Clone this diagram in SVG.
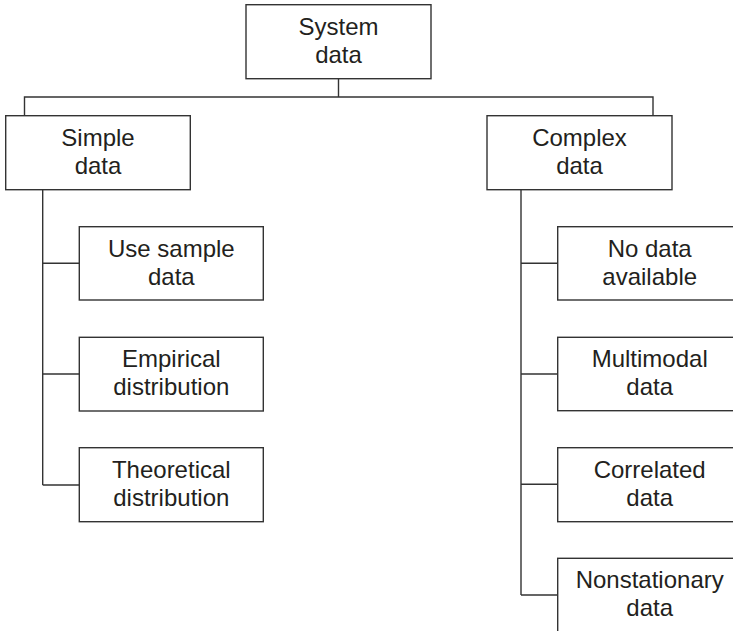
<svg xmlns="http://www.w3.org/2000/svg" width="733" height="631" viewBox="0 0 733 631">
<style>
.box{fill:#fff;stroke:#333;stroke-width:1.4}
.ln{fill:none;stroke:#333;stroke-width:1.4}
text{font-family:"Liberation Sans",Arial,sans-serif;font-size:24px;fill:#231f20;text-anchor:middle}
</style>
<rect width="733" height="631" fill="#fff"/>
<g id="connectors">
<path class="ln" d="M338.5 79V97M24.5 116V97H653V116"/>
<path class="ln" d="M42.7 190V485M42.7 263.3H79.3M42.7 374H79.3M42.7 485H79.3"/>
<path class="ln" d="M521 190V595M521 263.3H557.7M521 374H557.7M521 484.3H557.7M521 595H557.7"/>
</g>
<g id="system"><rect class="box" x="246" y="4.7" width="185" height="74"/><text x="338.5" y="35">System</text><text x="338.5" y="63.3">data</text></g>
<g id="simple"><rect class="box" x="5.7" y="115.7" width="184.6" height="74"/><text x="98" y="146">Simple</text><text x="98" y="174.3">data</text></g>
<g id="complex"><rect class="box" x="487" y="115.7" width="185" height="74"/><text x="579.5" y="146">Complex</text><text x="579.5" y="174.3">data</text></g>
<g id="usesample"><rect class="box" x="79.3" y="226.7" width="184" height="73.3"/><text x="171.3" y="256.5">Use sample</text><text x="171.3" y="284.5">data</text></g>
<g id="empirical"><rect class="box" x="79.3" y="337.3" width="184" height="73.7"/><text x="171.3" y="367">Empirical</text><text x="171.3" y="395">distribution</text></g>
<g id="theoretical"><rect class="box" x="79.3" y="447.7" width="184" height="74"/><text x="171.3" y="477.5">Theoretical</text><text x="171.3" y="505.5">distribution</text></g>
<g id="nodata"><rect class="box" x="557.7" y="226.7" width="184" height="73.3"/><text x="649.7" y="256.5">No data</text><text x="649.7" y="284.5">available</text></g>
<g id="multimodal"><rect class="box" x="557.7" y="337.3" width="184" height="73.4"/><text x="649.7" y="367">Multimodal</text><text x="649.7" y="395">data</text></g>
<g id="correlated"><rect class="box" x="557.7" y="447.7" width="184" height="74"/><text x="649.7" y="477.5">Correlated</text><text x="649.7" y="505.5">data</text></g>
<g id="nonstationary"><rect class="box" x="557.7" y="558.3" width="184" height="80"/><text x="649.7" y="588">Nonstationary</text><text x="649.7" y="616">data</text></g>
</svg>
